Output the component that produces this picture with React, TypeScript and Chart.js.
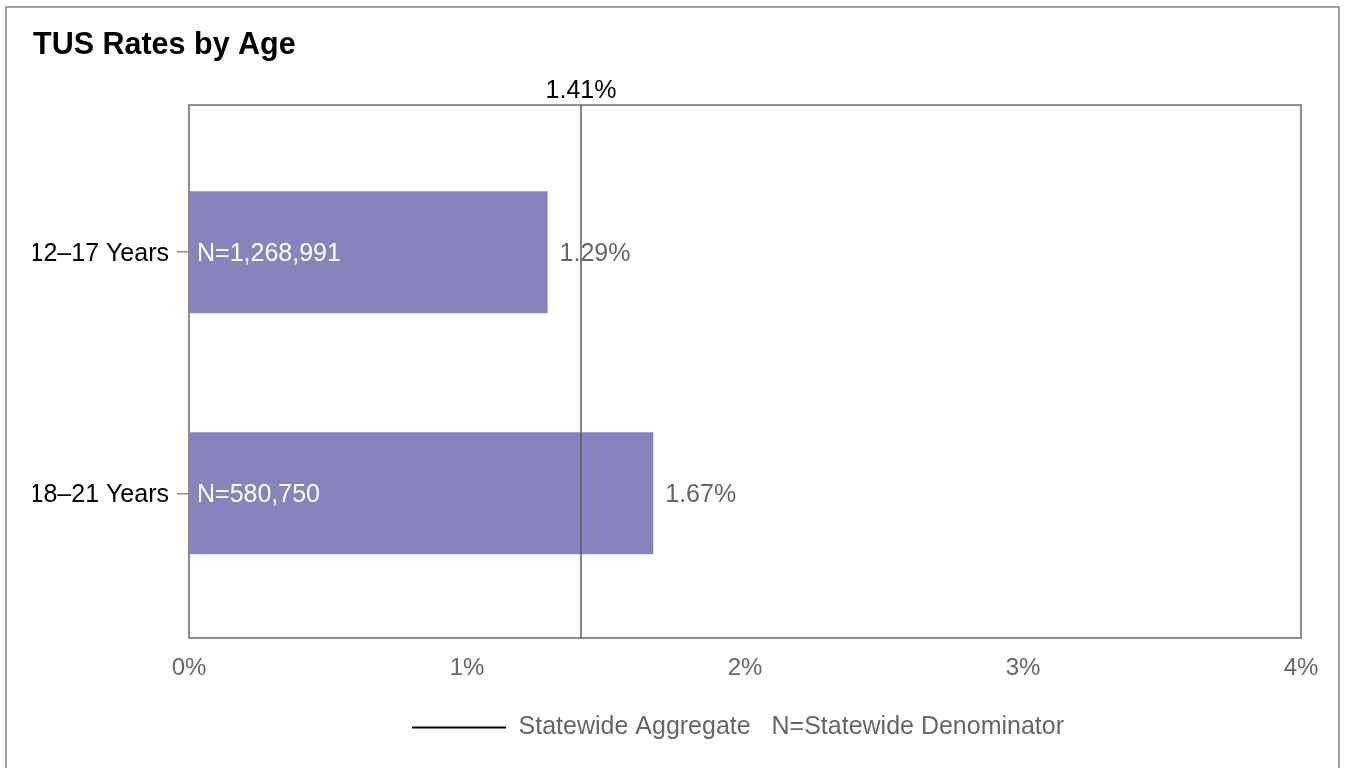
import React, { useEffect, useRef } from "react";
import { Chart, registerables } from "chart.js";

Chart.register(...registerables);

const TITLE = "TUS Rates by Age";
const categories = ["12–17 Years", "18–21 Years"];
const rates = [1.29, 1.67];
const denominators = ["N=1,268,991", "N=580,750"];
const aggregate = 1.41;
const xTicks = [0, 1, 2, 3, 4];
const legendText = "Statewide Aggregate\u00A0\u00A0\u00A0N=Statewide Denominator\u00A0\u00A0";

const FONT = "'Liberation Sans', Arial, sans-serif";
const BAR_COLOR = "#8783bd";
const GRAY = "#666666";
const FRAME = "#8c8c8c";

const overlayPlugin = {
  id: "overlay",
  beforeDraw(chart: any) {
    const ctx = chart.ctx;
    ctx.save();
    ctx.strokeStyle = "#a0a0a0";
    ctx.lineWidth = 2;
    ctx.strokeRect(6, 7, 1333, 800);
    ctx.restore();
  },
  afterDatasetsDraw(chart: any) {
    const ctx = chart.ctx;
    const area = chart.chartArea;
    const xScale = chart.scales.x;
    ctx.save();
    // plot frame
    ctx.strokeStyle = FRAME;
    ctx.lineWidth = 2;
    ctx.strokeRect(area.left, area.top, area.right - area.left, area.bottom - area.top);

    // bar labels
    const meta = chart.getDatasetMeta(0);
    ctx.font = `25px ${FONT}`;
    ctx.textBaseline = "middle";
    meta.data.forEach((bar: any, i: number) => {
      ctx.fillStyle = "#ffffff";
      ctx.textAlign = "left";
      ctx.fillText(denominators[i], bar.base + 8, bar.y + 2);
      ctx.fillStyle = GRAY;
      ctx.fillText(rates[i].toFixed(2) + "%", bar.x + 12, bar.y + 2);
    });

    // aggregate line
    const ax = xScale.getPixelForValue(aggregate);
    ctx.strokeStyle = "#5a5a5a";
    ctx.lineWidth = 1.5;
    ctx.beginPath();
    ctx.moveTo(ax, area.top);
    ctx.lineTo(ax, area.bottom);
    ctx.stroke();
    ctx.fillStyle = "#000000";
    ctx.textAlign = "center";
    ctx.fillText(aggregate.toFixed(2) + "%", ax, area.top - 14);
    ctx.restore();
  },
};

export default function App() {
  const ref = useRef<HTMLCanvasElement | null>(null);
  useEffect(() => {
    if (!ref.current) return;
    const chart = new Chart(ref.current, {
      type: "bar",
      data: {
        datasets: [
          {
            label: "TUS Rate",
            data: rates.map((v, i) => ({ x: v, y: i })),
            backgroundColor: BAR_COLOR,
            borderWidth: 0,
            categoryPercentage: 1,
            barPercentage: 0.506,
          },
        ],
      },
      options: {
        indexAxis: "y",
        animation: false,
        responsive: true,
        maintainAspectRatio: false,
        layout: { padding: { top: 21, left: 33, right: 45, bottom: 18 } },
        scales: {
          x: {
            type: "linear",
            min: 0,
            max: 4,
            afterBuildTicks: (axis: any) => {
              axis.ticks = xTicks.map((v) => ({ value: v }));
            },
            ticks: {
              color: GRAY,
              font: { size: 24, family: FONT },
              padding: 16,
              callback: (v: any) => v + "%",
            },
            grid: { display: false, drawTicks: false },
            border: { display: false },
            afterFit: (s: any) => {
              s.height = 67;
            },
          },
          y: {
            type: "linear",
            min: -0.61,
            max: 1.6,
            reverse: true,
            offset: false,
            afterBuildTicks: (axis: any) => {
              axis.ticks = categories.map((_, i) => ({ value: i }));
            },
            ticks: {
              color: "#000000",
              font: { size: 25, family: FONT },
              padding: 8,
              labelOffset: 2,
              callback: (v: any) => categories[v] ?? "",
            },
            grid: {
              display: true,
              offset: false,
              drawOnChartArea: false,
              drawTicks: true,
              tickLength: 12,
              color: FRAME,
              lineWidth: 1.5,
            },
            border: { display: false },
            afterFit: (s: any) => {
              s.width = 156;
            },
          },
        },
        plugins: {
          title: {
            display: true,
            text: TITLE,
            align: "start",
            color: "#000000",
            font: { size: 30.5, weight: "bold", family: FONT },
            padding: { top: 6, bottom: 41.5 },
          },
          legend: {
            display: true,
            position: "bottom",
            fullSize: false,
            labels: {
              color: GRAY,
              font: { size: 25, family: FONT },
              boxWidth: 94,
              boxHeight: 2,
              padding: 10,
              generateLabels: () => [
                {
                  text: legendText,
                  fillStyle: "#000000",
                  strokeStyle: "#000000",
                  lineWidth: 0,
                  hidden: false,
                  datasetIndex: 0,
                  fontColor: GRAY,
                },
              ],
            },
            onClick: () => {},
          },
          tooltip: { enabled: false },
        },
      },
      plugins: [overlayPlugin],
    });
    return () => chart.destroy();
  }, []);

  return (
    <div style={{ position: "absolute", left: 0, top: 0, width: 1346, height: 768, background: "#fff" }}>
      <canvas ref={ref} />
    </div>
  );
}
